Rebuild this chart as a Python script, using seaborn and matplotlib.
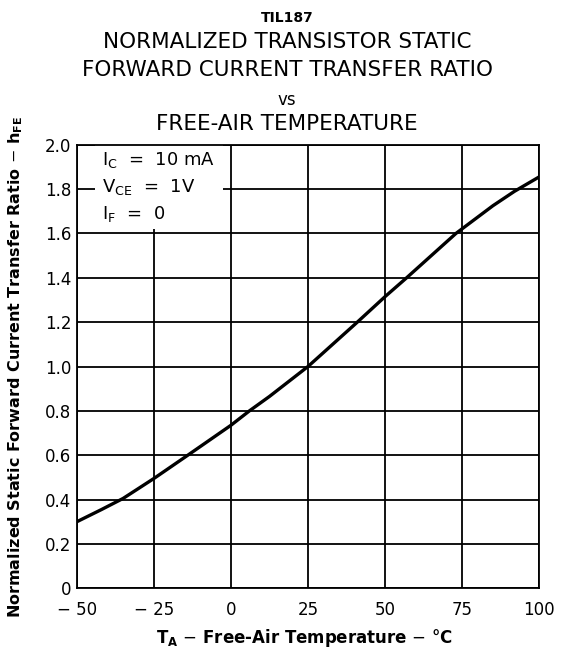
import numpy as np
import pandas as pd
import matplotlib
matplotlib.use("Agg")
import matplotlib.pyplot as plt
from matplotlib.patches import Rectangle
import seaborn as sns

# curve
temp_c = [-50, -42, -35, -25, -14, 0, 6, 12.5, 25, 41, 50, 57, 65, 73, 85, 92, 100]
hfe_norm = [0.30, 0.355, 0.405, 0.495, 0.60, 0.735, 0.80, 0.865, 1.00, 1.20,
            1.315, 1.40, 1.50, 1.60, 1.725, 1.79, 1.855]

x_ticks = [-50, -25, 0, 25, 50, 75, 100]
x_labels = ['\u2212 50', '\u2212 25', '0', '25', '50', '75', '100']
y_ticks = [0, 0.2, 0.4, 0.6, 0.8, 1.0, 1.2, 1.4, 1.6, 1.8, 2.0]
y_labels = ['0', '0.2', '0.4', '0.6', '0.8', '1.0', '1.2', '1.4', '1.6', '1.8', '2.0']

sns.set_style('white')
plt.rcParams['font.family'] = ['DejaVu Sans']
plt.rcParams['text.color'] = 'black'
plt.rcParams['axes.labelcolor'] = 'black'
plt.rcParams['xtick.color'] = 'black'
plt.rcParams['ytick.color'] = 'black'

df = pd.DataFrame({'temp': temp_c, 'hfe': hfe_norm})

fig = plt.figure(figsize=(5.61, 6.58), dpi=100)
ax = fig.add_axes([0.137, 0.106, 0.824, 0.674])

sns.lineplot(data=df, x='temp', y='hfe', ax=ax, color='black', linewidth=2.4,
             zorder=4)

ax.set_xlim(-50, 100)
ax.set_ylim(0, 2.0)
ax.set_xticks(x_ticks)
ax.set_xticklabels(x_labels, fontsize=12)
ax.set_yticks(y_ticks)
ax.set_yticklabels(y_labels, fontsize=12)
ax.tick_params(axis='x', length=0, pad=9)
ax.tick_params(axis='y', length=0, pad=4)
ax.grid(True, color='black', linewidth=1.3)
for s in ax.spines.values():
    s.set_visible(True)
    s.set_color('black')
    s.set_linewidth(1.3)

ax.set_xlabel(r'T$_\mathbf{A}$ $-$ Free-Air Temperature $-$ °C', fontsize=12,
              fontweight='bold')
ax.xaxis.set_label_coords(0.493, -0.088)
ax.set_ylabel(r'Normalized Static Forward Current Transfer Ratio $-$ h$_\mathbf{FE}$',
              fontsize=11.5, fontweight='bold')
ax.yaxis.set_label_coords(-0.112, 0.5)

# white box behind the test conditions
ax.add_patch(Rectangle((-44, 1.62), 41.5, 0.38, facecolor='white',
                       edgecolor='none', zorder=1))
ax.text(-42, 1.975, 'I$_\\mathrm{C}$  =  10 mA\nV$_\\mathrm{CE}$  =  1V\nI$_\\mathrm{F}$  =  0',
        fontsize=13, va='top', ha='left', linespacing=1.45, zorder=5)

cx = 0.512
fig.text(cx, 0.973, 'TIL187', ha='center', va='center', fontsize=10, fontweight='bold')
fig.text(cx, 0.936, 'NORMALIZED TRANSISTOR STATIC', ha='center', va='center', fontsize=15.5)
fig.text(cx, 0.894, 'FORWARD CURRENT TRANSFER RATIO', ha='center', va='center', fontsize=15.5)
fig.text(cx, 0.848, 'vs', ha='center', va='center', fontsize=12)
fig.text(cx, 0.811, 'FREE-AIR TEMPERATURE', ha='center', va='center', fontsize=15.5)

fig.savefig('out.png', dpi=100)
